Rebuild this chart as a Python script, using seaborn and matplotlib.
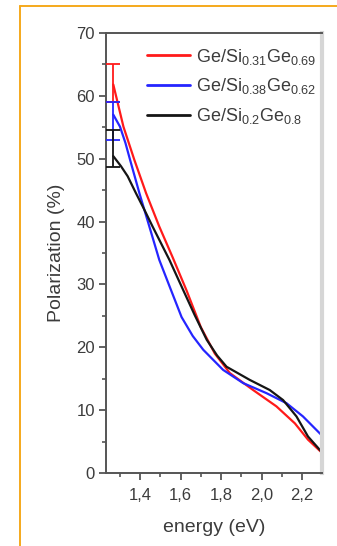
import matplotlib
matplotlib.use("Agg")
import matplotlib.pyplot as plt
from matplotlib.lines import Line2D
from matplotlib.ticker import MultipleLocator, FixedLocator
import seaborn as sns
import pandas as pd

# ---- data ----
labels = [r"Ge/Si$_{0.31}$Ge$_{0.69}$",
          r"Ge/Si$_{0.38}$Ge$_{0.62}$",
          r"Ge/Si$_{0.2}$Ge$_{0.8}$"]
colors = ["#ff1a1a", "#2525ff", "#151515"]

energy_red = [1.268, 1.318, 1.372, 1.430, 1.495, 1.561, 1.63, 1.70, 1.769,
              1.843, 1.958, 2.073, 2.164, 2.229, 2.295]
pol_red = [61.8, 55.1, 49.8, 44.5, 39.2, 34.3, 29.0, 23.2, 19.0,
           15.9, 13.2, 10.6, 7.9, 5.3, 3.3]

energy_blue = [1.268, 1.301, 1.328, 1.351, 1.397, 1.446, 1.495, 1.548, 1.605,
               1.66, 1.712, 1.810, 1.909, 2.024, 2.123, 2.204, 2.295]
pol_blue = [57.0, 55.1, 52.5, 49.8, 44.5, 39.2, 33.9, 29.5, 24.8,
            21.8, 19.6, 16.4, 14.3, 12.7, 11.1, 9.0, 6.05]

energy_black = [1.268, 1.306, 1.339, 1.380, 1.421, 1.462, 1.545, 1.613, 1.67,
                1.729, 1.78, 1.827, 1.942, 2.040, 2.106, 2.172, 2.229, 2.295]
pol_black = [50.4, 48.8, 47.2, 44.5, 41.9, 39.2, 33.9, 29.1, 25.1,
             21.2, 18.7, 16.9, 14.8, 13.2, 11.6, 9.0, 5.8, 3.4]

err_x = [1.268, 1.268, 1.268]
err_center = [62.0, 56.0, 51.6]
err_size = [3.0, 3.0, 3.0]

xticks = [1.4, 1.6, 1.8, 2.0, 2.2]
xtick_labels = ["1,4", "1,6", "1,8", "2,0", "2,2"]
yticks = [0, 10, 20, 30, 40, 50, 60, 70]

# ---- build table ----
frames = []
for lab, ex, py in zip(labels,
                       [energy_red, energy_blue, energy_black],
                       [pol_red, pol_blue, pol_black]):
    frames.append(pd.DataFrame({"energy": ex, "pol": py, "series": lab}))
df = pd.concat(frames, ignore_index=True)

sns.set_theme(style="ticks")
plt.rcParams["font.family"] = ["Liberation Sans", "DejaVu Sans"]
plt.rcParams["mathtext.fontset"] = "custom"
plt.rcParams["mathtext.rm"] = "Liberation Sans"
plt.rcParams["mathtext.it"] = "Liberation Sans"

fig = plt.figure(figsize=(3.37, 5.46), dpi=100)
fig.patch.set_facecolor("white")
ax = fig.add_axes([0.3145, 0.1337, 0.641, 0.806])

sns.lineplot(data=df, x="energy", y="pol", hue="series", hue_order=labels,
             palette=colors, sort=False, estimator=None, linewidth=1.6, ax=ax,
             legend=True)
for ln in ax.get_lines():
    ln.set_solid_joinstyle("round")

for xe, ce, se, col in zip(err_x, err_center, err_size, colors):
    ax.errorbar([xe], [ce], yerr=[se], color=col, capsize=5, elinewidth=1.3,
                capthick=1.3, fmt="none", zorder=3)

ax.set_xlim(1.232, 2.298)
ax.set_ylim(0, 70)
ax.xaxis.set_major_locator(FixedLocator(xticks))
ax.set_xticklabels(xtick_labels)
ax.xaxis.set_minor_locator(MultipleLocator(0.1))
ax.yaxis.set_major_locator(FixedLocator(yticks))
ax.yaxis.set_minor_locator(MultipleLocator(5))

spine_col = "#555555"
for s in ["left", "bottom", "top"]:
    ax.spines[s].set_color(spine_col)
    ax.spines[s].set_linewidth(1.4)
ax.spines["right"].set_color("#d6d6d6")
ax.spines["right"].set_linewidth(3.0)

ax.tick_params(axis="both", which="major", direction="out", length=5, width=1.3,
               color=spine_col, labelsize=12, labelcolor="#3c3c3c", pad=3)
ax.tick_params(axis="x", which="major", pad=6)
ax.tick_params(axis="both", which="minor", direction="out", length=3, width=1.2,
               color=spine_col)
ax.tick_params(top=False, right=False, which="both")

ax.set_xlabel("energy (eV)", fontsize=14, color="#3c3c3c", labelpad=11)
ax.set_ylabel("Polarization (%)", fontsize=14, color="#3c3c3c", labelpad=8)

leg = ax.legend(loc="upper left", bbox_to_anchor=(0.189, 0.969), frameon=False,
                fontsize=13, handlelength=2.4, handletextpad=0.35,
                labelspacing=0.55, borderpad=0, borderaxespad=0)
for t in leg.get_texts():
    t.set_color("#3c3c3c")
for h in leg.get_lines():
    h.set_linewidth(2.0)

# orange frame
fig.add_artist(Line2D([19.5 / 337, 19.5 / 337], [0, 1 - 6 / 546],
                      transform=fig.transFigure, color="#f5a91c", linewidth=1.4))
fig.add_artist(Line2D([19.5 / 337, 1], [1 - 6 / 546, 1 - 6 / 546],
                      transform=fig.transFigure, color="#f5a91c", linewidth=1.4))

fig.savefig("out.png", dpi=100, facecolor="white")
